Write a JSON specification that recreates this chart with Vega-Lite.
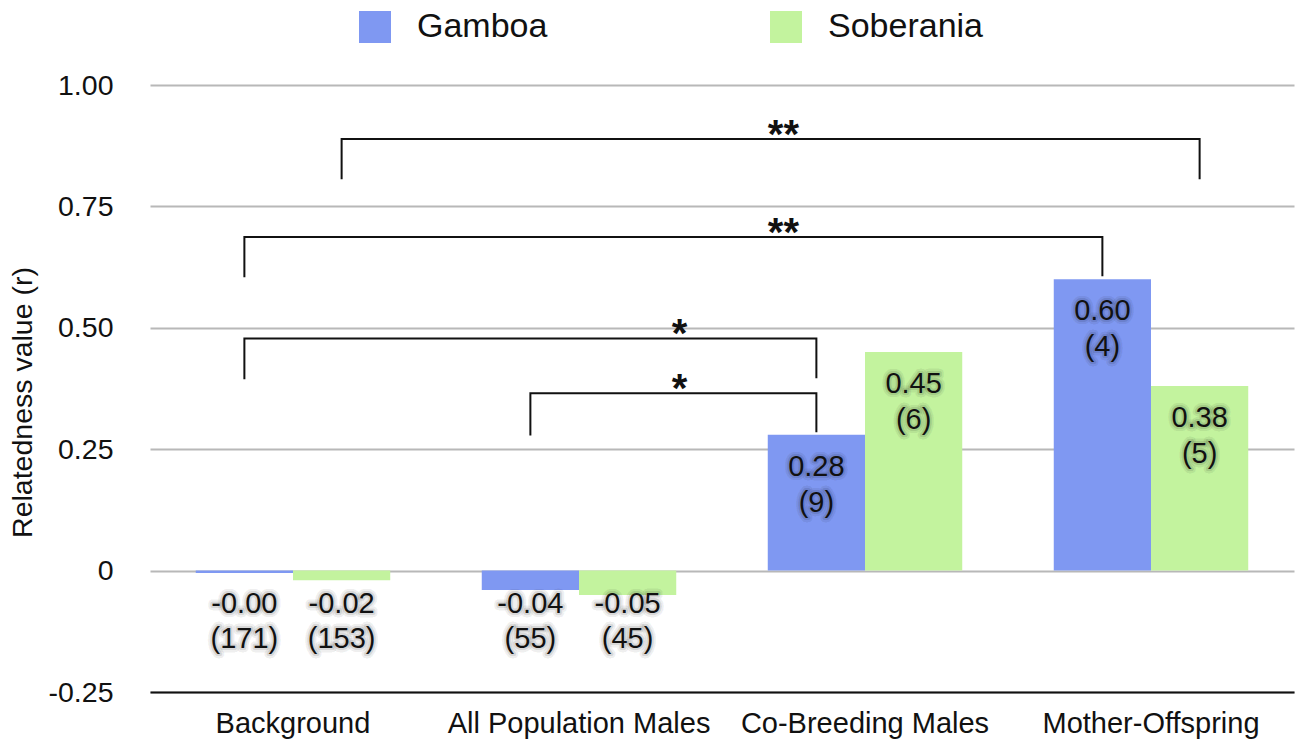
{
  "$schema": "https://vega.github.io/schema/vega-lite/v6.json",
  "width": 1144,
  "height": 607,
  "autosize": "none",
  "padding": {"left": 150, "top": 85, "right": 2, "bottom": 54},
  "config": {
    "font": "Liberation Sans",
    "view": {"stroke": null},
    "text": {"font": "Liberation Sans", "color": "#111111"}
  },
  "datasets": {
    "bars": [
      {"category": "Background", "group": "Gamboa", "r": -0.0049, "n": 171, "label": "-0.00\n(171)"},
      {"category": "Background", "group": "Soberania", "r": -0.02, "n": 153, "label": "-0.02\n(153)"},
      {"category": "All Population Males", "group": "Gamboa", "r": -0.04, "n": 55, "label": "-0.04\n(55)"},
      {"category": "All Population Males", "group": "Soberania", "r": -0.05, "n": 45, "label": "-0.05\n(45)"},
      {"category": "Co-Breeding Males", "group": "Gamboa", "r": 0.28, "n": 9, "label": "0.28\n(9)"},
      {"category": "Co-Breeding Males", "group": "Soberania", "r": 0.45, "n": 6, "label": "0.45\n(6)"},
      {"category": "Mother-Offspring", "group": "Gamboa", "r": 0.6, "n": 4, "label": "0.60\n(4)"},
      {"category": "Mother-Offspring", "group": "Soberania", "r": 0.38, "n": 5, "label": "0.38\n(5)"}
    ],
    "brackets": [
      {"bracket": "b1", "pt": 1, "category": "Background", "group": "Soberania", "r": 0.806},
      {"bracket": "b1", "pt": 2, "category": "Background", "group": "Soberania", "r": 0.889},
      {"bracket": "b1", "pt": 3, "category": "Mother-Offspring", "group": "Soberania", "r": 0.889},
      {"bracket": "b1", "pt": 4, "category": "Mother-Offspring", "group": "Soberania", "r": 0.806},
      {"bracket": "b2", "pt": 1, "category": "Background", "group": "Gamboa", "r": 0.604},
      {"bracket": "b2", "pt": 2, "category": "Background", "group": "Gamboa", "r": 0.687},
      {"bracket": "b2", "pt": 3, "category": "Mother-Offspring", "group": "Gamboa", "r": 0.687},
      {"bracket": "b2", "pt": 4, "category": "Mother-Offspring", "group": "Gamboa", "r": 0.606},
      {"bracket": "b3", "pt": 1, "category": "Background", "group": "Gamboa", "r": 0.394},
      {"bracket": "b3", "pt": 2, "category": "Background", "group": "Gamboa", "r": 0.478},
      {"bracket": "b3", "pt": 3, "category": "Co-Breeding Males", "group": "Gamboa", "r": 0.478},
      {"bracket": "b3", "pt": 4, "category": "Co-Breeding Males", "group": "Gamboa", "r": 0.396},
      {"bracket": "b4", "pt": 1, "category": "All Population Males", "group": "Gamboa", "r": 0.278},
      {"bracket": "b4", "pt": 2, "category": "All Population Males", "group": "Gamboa", "r": 0.365},
      {"bracket": "b4", "pt": 3, "category": "Co-Breeding Males", "group": "Gamboa", "r": 0.365},
      {"bracket": "b4", "pt": 4, "category": "Co-Breeding Males", "group": "Gamboa", "r": 0.285}
    ],
    "stars": [
      {"stars": "**", "category": "Co-Breeding Males", "group": "Gamboa", "r": 0.889},
      {"stars": "**", "category": "Co-Breeding Males", "group": "Gamboa", "r": 0.687},
      {"stars": "*", "category": "All Population Males", "group": "Soberania", "r": 0.478},
      {"stars": "*", "category": "All Population Males", "group": "Soberania", "r": 0.365}
    ]
  },
  "encoding": {
    "x": {
      "field": "category",
      "type": "nominal",
      "sort": ["Background", "All Population Males", "Co-Breeding Males", "Mother-Offspring"],
      "scale": {"paddingInner": 0.32, "paddingOuter": 0.16},
      "axis": {
        "title": null,
        "labelAngle": 0,
        "labelFontSize": 29,
        "labelColor": "#111111",
        "labelPadding": 17,
        "labelLimit": 400,
        "ticks": false,
        "domainColor": "#111111",
        "domainWidth": 2,
        "grid": false
      }
    },
    "xOffset": {"field": "group", "type": "nominal", "sort": ["Gamboa", "Soberania"]}
  },
  "layer": [
    {
      "data": {"name": "bars"},
      "mark": {"type": "bar"},
      "encoding": {
        "y": {
          "field": "r",
          "type": "quantitative",
          "scale": {"domain": [-0.25, 1], "nice": false},
          "axis": {
            "values": [-0.25, 0, 0.25, 0.5, 0.75, 1],
            "labelExpr": "datum.value == 0 ? '0' : (datum.value < 0 ? '-' + format(-datum.value, '.2f') : format(datum.value, '.2f'))",
            "domain": false,
            "ticks": false,
            "labelFontSize": 28.5,
            "labelColor": "#111111",
            "labelPadding": 37,
            "gridColor": "#b8b8b8",
            "gridWidth": 2,
            "title": "Relatedness value (r)",
            "titleFontSize": 28.5,
            "titleFontWeight": "normal",
            "titleColor": "#111111",
            "titleX": -128,
            "titleY": 317,
            "titleAngle": -90,
            "titleAlign": "center",
            "titleBaseline": "middle"
          }
        },
        "color": {
          "field": "group",
          "type": "nominal",
          "scale": {"domain": ["Gamboa", "Soberania"], "range": ["#7f98f2", "#c3f39e"]},
          "legend": {
            "title": null,
            "orient": "none",
            "legendX": 208,
            "legendY": -75,
            "direction": "horizontal",
            "symbolType": "square",
            "symbolSize": 1024,
            "symbolStrokeWidth": 0,
            "symbolOpacity": 1,
            "labelFontSize": 34,
            "labelColor": "#111111",
            "labelOffset": 25,
            "labelLimit": 300,
            "columnPadding": 221
          }
        }
      }
    },
    {
      "data": {"name": "bars"},
      "transform": [{"filter": "datum.r > 0"}],
      "mark": {"type": "text", "baseline": "top", "dy": 18, "lineBreak": "\n", "lineHeight": 36, "fontSize": 29, "stroke": "#000000", "strokeOpacity": 0.06, "strokeWidth": 9, "strokeJoin": "round", "fillOpacity": 0},
      "encoding": {"y": {"field": "r", "type": "quantitative"}, "text": {"field": "label"}}
    },
    {
      "data": {"name": "bars"},
      "transform": [{"filter": "datum.r > 0"}],
      "mark": {"type": "text", "baseline": "top", "dy": 18, "lineBreak": "\n", "lineHeight": 36, "fontSize": 29, "stroke": "#000000", "strokeOpacity": 0.1, "strokeWidth": 4.5, "strokeJoin": "round", "fillOpacity": 0},
      "encoding": {"y": {"field": "r", "type": "quantitative"}, "text": {"field": "label"}}
    },
    {
      "data": {"name": "bars"},
      "transform": [{"filter": "datum.r > 0"}],
      "mark": {"type": "text", "baseline": "top", "dy": 18, "lineBreak": "\n", "lineHeight": 36, "fontSize": 29},
      "encoding": {"y": {"field": "r", "type": "quantitative"}, "text": {"field": "label"}}
    },
    {
      "data": {"name": "bars"},
      "transform": [{"filter": "datum.r < 0"}],
      "mark": {"type": "text", "baseline": "top", "dy": 19, "lineBreak": "\n", "lineHeight": 35, "fontSize": 29, "stroke": "#000000", "strokeOpacity": 0.06, "strokeWidth": 9, "strokeJoin": "round", "fillOpacity": 0},
      "encoding": {"y": {"datum": 0, "type": "quantitative"}, "text": {"field": "label"}}
    },
    {
      "data": {"name": "bars"},
      "transform": [{"filter": "datum.r < 0"}],
      "mark": {"type": "text", "baseline": "top", "dy": 19, "lineBreak": "\n", "lineHeight": 35, "fontSize": 29, "stroke": "#000000", "strokeOpacity": 0.1, "strokeWidth": 4.5, "strokeJoin": "round", "fillOpacity": 0},
      "encoding": {"y": {"datum": 0, "type": "quantitative"}, "text": {"field": "label"}}
    },
    {
      "data": {"name": "bars"},
      "transform": [{"filter": "datum.r < 0"}],
      "mark": {"type": "text", "baseline": "top", "dy": 19, "lineBreak": "\n", "lineHeight": 35, "fontSize": 29},
      "encoding": {"y": {"datum": 0, "type": "quantitative"}, "text": {"field": "label"}}
    },
    {
      "data": {"name": "brackets"},
      "mark": {"type": "line", "color": "#111111", "strokeWidth": 2},
      "encoding": {
        "y": {"field": "r", "type": "quantitative"},
        "order": {"field": "pt", "type": "quantitative"},
        "detail": {"field": "bracket"}
      }
    },
    {
      "data": {"name": "stars"},
      "transform": [{"filter": "datum.stars == '**'"}],
      "mark": {"type": "text", "fontSize": 40, "fontWeight": "bold", "baseline": "alphabetic", "dy": 9, "dx": -33},
      "encoding": {"y": {"field": "r", "type": "quantitative"}, "text": {"field": "stars"}}
    },
    {
      "data": {"name": "stars"},
      "transform": [{"filter": "datum.stars == '*'"}],
      "mark": {"type": "text", "fontSize": 40, "fontWeight": "bold", "baseline": "alphabetic", "dy": 9, "dx": 52},
      "encoding": {"y": {"field": "r", "type": "quantitative"}, "text": {"field": "stars"}}
    }
  ]
}
